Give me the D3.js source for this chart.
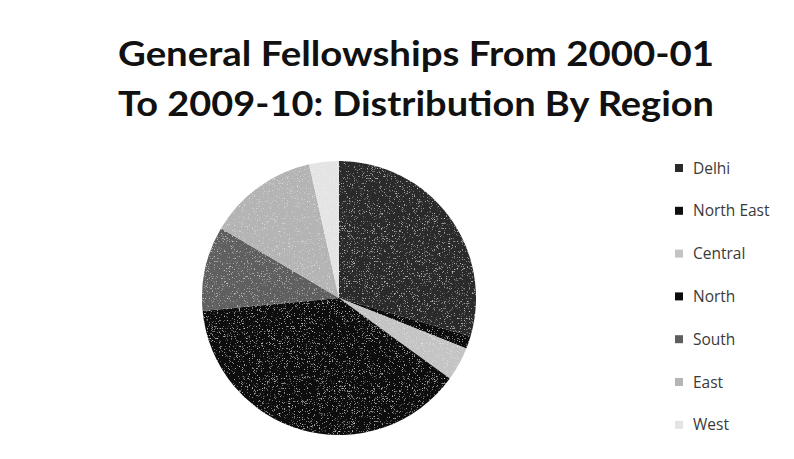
<!DOCTYPE html>
<html>
<head>
<meta charset="utf-8">
<script src="https://cdn.jsdelivr.net/npm/d3@7"></script>
<style>
  html, body { margin: 0; padding: 0; background: #fff; }
  svg { display: block; }
</style>
</head>
<body>
<svg id="chart" width="794" height="459"></svg>
<script>
// Share of general fellowships by region, 2000-01 to 2009-10 (percent)
const regions = ["Delhi", "North East", "Central", "North", "South", "East", "West"];
const shares  = [29.5, 1.5, 4, 38.5, 10, 13, 3.5];
const shades  = ["#2a2a2a", "#0e0e0e", "#c4c4c4", "#0c0c0c", "#5e5e5e", "#b4b4b4", "#e4e4e4"];
const titleLines = ["General Fellowships From 2000-01", "To 2009-10: Distribution By Region"];

const svg = d3.select("#chart");

// light speckle texture for the pie
const defs = svg.append("defs");
const grain = defs.append("filter").attr("id", "grain")
  .attr("x", 0).attr("y", 0).attr("width", "100%").attr("height", "100%");
grain.append("feTurbulence").attr("type", "fractalNoise")
  .attr("baseFrequency", 1.6).attr("numOctaves", 1).attr("seed", 3).attr("result", "noise");
grain.append("feColorMatrix").attr("in", "noise").attr("type", "matrix")
  .attr("values", "0 0 0 0 1  0 0 0 0 1  0 0 0 0 1  0 0 0 -3.2 1.25").attr("result", "specks");
grain.append("feComposite").attr("in", "specks").attr("in2", "SourceGraphic")
  .attr("operator", "in").attr("result", "clipped");
grain.append("feMerge").call(m => {
  m.append("feMergeNode").attr("in", "SourceGraphic");
  m.append("feMergeNode").attr("in", "clipped");
});

// title
const title = svg.append("text")
  .attr("text-anchor", "middle")
  .attr("font-family", "Lato, 'Open Sans', sans-serif")
  .attr("font-weight", "bold")
  .attr("font-size", 35)
  .attr("fill", "#111");
title.selectAll("tspan").data(titleLines).join("tspan")
  .attr("x", 416)
  .attr("y", (d, i) => 66 + i * 50)
  .attr("textLength", 596)
  .attr("lengthAdjust", "spacingAndGlyphs")
  .text(d => d);

// pie
const cx = 339, cy = 298, R = 137;
const pie = d3.pie().sort(null).value(d => d.v);
const arc = d3.arc().innerRadius(0).outerRadius(R);
const data = regions.map((r, i) => ({ r, v: shares[i] }));
const color = d3.scaleOrdinal().domain(regions).range(shades);

svg.append("g")
  .attr("transform", `translate(${cx},${cy})`)
  .attr("filter", "url(#grain)")
  .selectAll("path")
  .data(pie(data))
  .join("path")
  .attr("d", arc)
  .attr("fill", d => color(d.data.r));

// legend
const legend = svg.append("g").attr("transform", "translate(675,168)");
const item = legend.selectAll("g").data(regions).join("g")
  .attr("transform", (d, i) => `translate(0,${i * 42.8})`);
item.append("rect")
  .attr("x", 0).attr("y", -4).attr("width", 8).attr("height", 8)
  .attr("fill", d => color(d));
item.append("text")
  .attr("x", 18).attr("y", 5.5)
  .attr("font-family", "'Open Sans', 'Liberation Sans', sans-serif")
  .attr("font-size", 15.5)
  .attr("fill", "#3a3a3a")
  .text(d => d);
</script>
</body>
</html>
